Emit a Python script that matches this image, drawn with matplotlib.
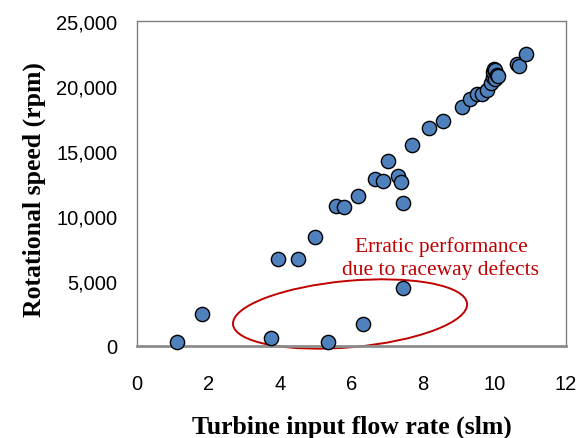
import matplotlib
matplotlib.use('Agg')
import matplotlib.pyplot as plt
from matplotlib.patches import Ellipse
from matplotlib.transforms import ScaledTranslation

flow_rate = [1.11, 1.83, 3.74, 3.94, 4.50, 4.98, 5.35, 5.56, 5.78, 6.19,
             6.33, 6.66, 6.89, 7.01, 7.31, 7.39, 7.43, 7.45, 7.69, 8.17,
             8.55, 9.08, 9.31, 9.50, 9.66, 9.78, 9.90, 9.95, 9.97, 9.99,
             10.00, 10.02, 10.06, 10.11, 10.62, 10.69, 10.88]
speed = [285, 2460, 590, 6670, 6690, 8380, 330, 10790, 10670, 11520,
         1690, 12850, 12690, 14250, 13050, 12590, 11000, 4440, 15460, 16750,
         17330, 18410, 19000, 19380, 19410, 19720, 20230, 20670, 21050, 21310,
         21200, 20500, 20850, 20750, 21690, 21560, 22460]

x_ticks = [0, 2, 4, 6, 8, 10, 12]
y_ticks = [0, 5000, 10000, 15000, 20000, 25000]
y_tick_labels = ['0', '5,000', '10,000', '15,000', '20,000', '25,000']

note = 'Erratic performance\ndue to raceway defects'

fig = plt.figure(figsize=(5.8, 4.39), dpi=100)
ax = fig.add_axes([0.236, 0.2096, 0.74, 0.7404])

ax.scatter(flow_rate, speed, s=105, c='#4f81bd', edgecolors='black',
           linewidths=1.0, zorder=3, clip_on=False)

ax.set_xlim(0, 12)
ax.set_ylim(0, 25000)
ax.set_xticks(x_ticks)
ax.set_yticks(y_ticks)
ax.set_yticklabels(y_tick_labels)
ax.tick_params(length=0, labelsize=14.5)
ax.tick_params(axis='y', pad=14)
ax.tick_params(axis='x', pad=20)
for lab in ax.get_xticklabels() + ax.get_yticklabels():
    lab.set_family('Liberation Sans')

for s in ax.spines.values():
    s.set_color('#7f7f7f')
    s.set_linewidth(1.0)
ax.spines['bottom'].set_linewidth(2.0)
ax.spines['bottom'].set_color('#8c8c8c')

ax.set_xlabel('Turbine input flow rate (slm)', family='Liberation Serif',
              fontweight='bold', fontsize=18.5)
ax.set_ylabel('Rotational speed (rpm)', family='Liberation Serif',
              fontweight='bold', fontsize=18.5)
ax.xaxis.set_label_coords(0.5, -0.212)
ax.yaxis.set_label_coords(-0.212, 0.484)

# red ellipse around the outliers, drawn in inches around a data point
ell_tr = fig.dpi_scale_trans + ScaledTranslation(5.96, 2460, ax.transData)
ax.add_patch(Ellipse((0, 0), 2.35, 0.664, angle=5.1, transform=ell_tr,
                     fill=False, edgecolor='#c00000', linewidth=1.4,
                     zorder=2, clip_on=False))

ax.text(8.5, 6830, note, ha='center', va='center', color='#c00000',
        family='Liberation Serif', fontsize=15.5, linespacing=1.2)

fig.savefig('out.png', dpi=100)
